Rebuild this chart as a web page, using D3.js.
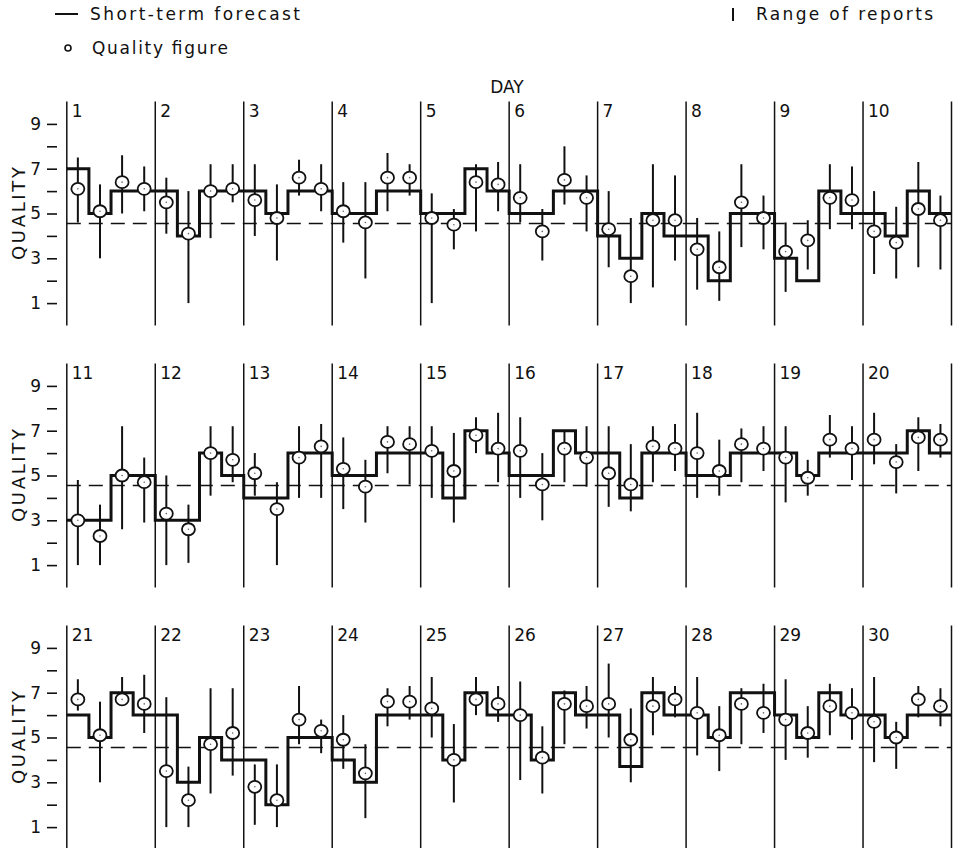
<!DOCTYPE html>
<html><head><meta charset="utf-8">
<script src="https://cdn.jsdelivr.net/npm/d3@7"></script>
<style>
body{margin:0;background:#fff}
svg{display:block}
text{font-family:"DejaVu Sans",sans-serif;fill:#111}
</style>
</head><body><svg id="chart" width="956" height="848"></svg>
<script>
// ---- data (one row per day, 4 six-hour periods each) ----
const days = d3.range(1, 31);
const forecast = [
  [7,5,6,6],[6,4,6,6],[6,5,6,6],[5,5,6,6],[5,5,7,6],[5,5,6,6],[4,3,5,4],[4,2,5,5],[3,2,6,5],[5,4,6,5],
  [3,3,5,5],[3,3,6,5],[4,4,6,6],[5,5,6,6],[6,4,7,6],[5,5,7,6],[6,4,6,6],[5,5,6,6],[6,5,6,6],[6,6,7,6],
  [6,5,7,6],[6,3,5,4],[4,2,5,5],[4,3,6,6],[6,4,7,6],[6,4,7,6],[6,3.7,7,6],[6,5,7,7],[6,5,7,6],[6,5,6,6]
];
const quality = [
  [6.1,5.1,6.4,6.1],[5.5,4.1,6.0,6.1],[5.6,4.8,6.6,6.1],[5.1,4.6,6.6,6.6],[4.8,4.5,6.4,6.3],
  [5.7,4.2,6.5,5.7],[4.3,2.2,4.7,4.7],[3.4,2.6,5.5,4.8],[3.3,3.8,5.7,5.6],[4.2,3.7,5.2,4.7],
  [3.0,2.3,5.0,4.7],[3.3,2.6,6.0,5.7],[5.1,3.5,5.8,6.3],[5.3,4.5,6.5,6.4],[6.1,5.2,6.8,6.2],
  [6.1,4.6,6.2,5.8],[5.1,4.6,6.3,6.2],[6.0,5.2,6.4,6.2],[5.8,4.9,6.6,6.2],[6.6,5.6,6.7,6.6],
  [6.7,5.1,6.7,6.5],[3.5,2.2,4.7,5.2],[2.8,2.2,5.8,5.3],[4.9,3.4,6.6,6.6],[6.3,4.0,6.7,6.5],
  [6.0,4.1,6.5,6.4],[6.5,4.9,6.4,6.7],[6.1,5.1,6.5,6.1],[5.8,5.2,6.4,6.1],[5.7,5.0,6.7,6.4]
];
const rangeHigh = [
  [7.5,6.3,7.6,7.1],[6.6,6.0,7.2,7.2],[7.2,6.3,7.4,7.2],[6.4,6.4,7.7,7.2],[5.9,5.2,7.2,7.3],
  [7.2,5.2,8.0,6.7],[6.0,4.8,7.2,6.7],[4.8,4.2,7.2,5.8],[4.6,4.7,7.2,7.1],[6.0,5.3,7.3,5.8],
  [4.8,3.7,7.2,5.8],[5.0,3.7,7.2,7.2],[6.0,4.7,7.2,7.3],[6.7,5.7,7.2,7.2],[7.2,6.9,7.6,7.8],
  [7.6,6.0,7.0,7.2],[7.2,6.4,7.2,7.3],[7.8,6.6,7.1,7.2],[7.2,5.7,7.7,7.2],[7.8,6.4,7.6,7.3],
  [7.6,6.6,7.7,7.8],[6.8,3.7,7.2,7.2],[3.8,3.8,7.3,5.8],[6.0,4.7,7.2,7.3],[7.7,5.6,7.7,7.3],
  [7.5,5.5,7.1,7.3],[8.3,6.3,7.7,7.3],[7.7,6.4,7.2,7.4],[7.6,6.4,7.4,7.2],[7.7,5.7,7.3,7.2]
];
const rangeLow = [
  [4.6,3.0,5.0,5.1],[4.1,1.0,3.9,5.5],[4.0,2.9,5.8,5.1],[3.7,2.1,5.1,5.8],[1.0,3.4,4.2,5.1],
  [4.6,2.9,5.4,4.2],[2.6,1.0,1.7,2.9],[1.6,1.1,3.5,3.4],[1.5,2.5,4.3,4.3],[2.3,2.1,2.6,2.5],
  [1.0,1.0,2.6,2.9],[1.0,1.1,4.1,4.7],[4.1,1.0,4.0,4.0],[3.5,2.9,5.1,4.6],[4.0,2.9,6.0,4.7],
  [4.0,3.0,4.7,4.5],[3.6,3.4,4.7,5.2],[4.0,4.1,4.7,5.2],[3.8,4.1,5.8,4.8],[5.5,4.2,5.2,5.8],
  [6.2,3.0,6.6,5.2],[1.0,1.0,2.5,3.3],[1.1,1.0,4.7,4.3],[3.6,1.4,5.5,5.8],[5.0,2.1,6.0,5.7],
  [3.1,2.5,4.7,5.4],[5.0,3.0,5.1,5.9],[4.2,3.5,4.7,5.2],[4.0,4.1,5.1,4.9],[3.9,3.6,5.9,5.5]
];
const referenceLevel = 4.55;
const yTicks = [1,2,3,4,5,6,7,8,9];
const yTickLabels = ["1","","3","","5","","7","","9"];
const legendItems = ["Short-term forecast","Quality figure","Range of reports"];

// ---- layout ----
const svg = d3.select("#chart");
const ink = "#111";
const daysPerPanel = 10, per = 4;
const panelTop0 = 101.5, panelStep = 262, panelH = 224;
const xLeft = 66.8, xRight = 951.5;

// Legend
svg.append("line").attr("x1",55).attr("x2",78).attr("y1",14).attr("y2",14).attr("stroke",ink).attr("stroke-width",2);
svg.append("text").attr("x",90).attr("y",19.5).attr("font-size",17).attr("textLength",210).attr("lengthAdjust","spacing").text(legendItems[0]);
svg.append("circle").attr("cx",68).attr("cy",48).attr("r",3).attr("fill","#fff").attr("stroke",ink).attr("stroke-width",1.6);
svg.append("text").attr("x",92).attr("y",53.5).attr("font-size",17).attr("textLength",136).attr("lengthAdjust","spacing").text(legendItems[1]);
svg.append("line").attr("x1",733).attr("x2",733).attr("y1",8).attr("y2",21).attr("stroke",ink).attr("stroke-width",2);
svg.append("text").attr("x",756).attr("y",19.5).attr("font-size",17).attr("textLength",177).attr("lengthAdjust","spacing").text(legendItems[2]);

svg.append("text").attr("x",507).attr("y",93).attr("text-anchor","middle").attr("font-size",17).text("DAY");

for (let p = 0; p < 3; p++) {
  const top = panelTop0 + p * panelStep;
  const g = svg.append("g");
  const x = d3.scaleLinear().domain([0, daysPerPanel * per]).range([xLeft, xRight]);
  const y = d3.scaleLinear().domain([0, 10]).range([top + panelH, top]);
  const pd = days.slice(p * daysPerPanel, (p + 1) * daysPerPanel);
  const f = pd.flatMap(d => forecast[d - 1]);
  const q = pd.flatMap(d => quality[d - 1]);
  const hi = pd.flatMap(d => rangeHigh[d - 1]);
  const lo = pd.flatMap(d => rangeLow[d - 1]);

  // y axis
  const axis = d3.axisLeft(y).tickValues(yTicks).tickSize(10).tickPadding(6)
    .tickFormat((d, i) => yTickLabels[i]);
  const ag = g.append("g").attr("transform", "translate(57,0)").call(axis);
  ag.select(".domain").remove();
  ag.selectAll(".tick line").attr("stroke", ink).attr("stroke-width", 1.6);
  ag.selectAll(".tick text").attr("font-size", 17).attr("fill", ink).attr("font-family", "DejaVu Sans");

  g.append("text").attr("transform", `translate(25,${y(5)}) rotate(-90)`)
    .attr("text-anchor", "middle").attr("font-size", 18)
    .attr("textLength", 93).attr("lengthAdjust", "spacing").text("QUALITY");

  // day separators and labels
  d3.range(0, daysPerPanel + 1).forEach(k => {
    g.append("line").attr("x1", x(k * per)).attr("x2", x(k * per))
      .attr("y1", y(0)).attr("y2", y(10)).attr("stroke", ink).attr("stroke-width", 1.5);
  });
  g.selectAll(".daylbl").data(pd).join("text")
    .attr("x", (d, k) => x(k * per) + 5).attr("y", top + 15)
    .attr("font-size", 17).text(d => d);

  // reference dashed line
  g.append("line").attr("x1", x(0)).attr("x2", x(daysPerPanel * per))
    .attr("y1", y(referenceLevel)).attr("y2", y(referenceLevel))
    .attr("stroke", ink).attr("stroke-width", 1.5).attr("stroke-dasharray", "14,8");

  // forecast step
  const pts = f.map((v, i) => [i, v]).concat([[f.length, f[f.length - 1]]]);
  const line = d3.line().x(d => x(d[0])).y(d => y(d[1])).curve(d3.curveStepAfter);
  g.append("path").attr("d", line(pts)).attr("fill", "none")
    .attr("stroke", ink).attr("stroke-width", 3).attr("stroke-linejoin", "miter");

  // range bars
  g.selectAll(".rng").data(d3.range(f.length)).join("line")
    .attr("x1", i => x(i + 0.5)).attr("x2", i => x(i + 0.5))
    .attr("y1", i => y(lo[i])).attr("y2", i => y(hi[i]))
    .attr("stroke", ink).attr("stroke-width", 2);

  // quality figures
  g.selectAll(".qf").data(d3.range(f.length)).join("ellipse")
    .attr("cx", i => x(i + 0.5)).attr("cy", i => y(q[i]))
    .attr("rx", 6.5).attr("ry", 6).attr("fill", "#fff")
    .attr("stroke", ink).attr("stroke-width", 1.8);
  g.selectAll(".qd").data(d3.range(f.length)).join("circle")
    .attr("cx", i => x(i + 0.5)).attr("cy", i => y(q[i]))
    .attr("r", 0.8).attr("fill", "#666");
}
</script>
</body></html>
